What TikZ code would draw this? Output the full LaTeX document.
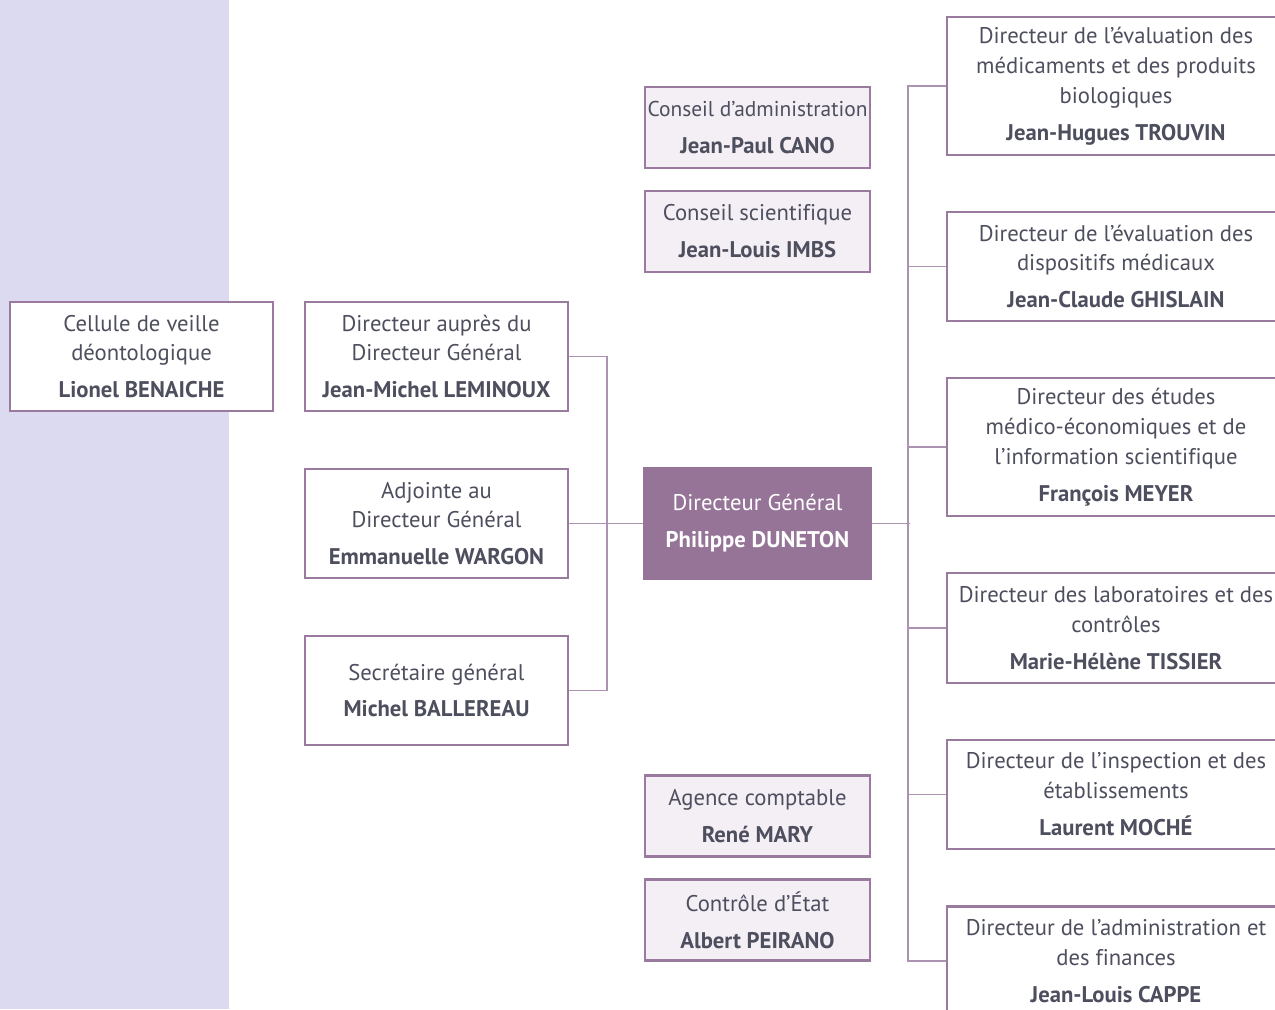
\documentclass[tikz,border=0pt]{standalone}
\usepackage{fontspec}
\setmainfont[Ligatures=NoCommon]{PT Sans}
\usetikzlibrary{positioning}

\definecolor{panel}{HTML}{DCDAF0}
\definecolor{frame}{HTML}{9A7B9F}
\definecolor{linkc}{HTML}{AC93B2}
\definecolor{soft}{HTML}{F4EEF5}
\definecolor{dgfill}{HTML}{957497}
\definecolor{ink}{HTML}{4E4F5E}

\tikzset{
  orgbox/.style={draw=frame, line width=1.6pt, fill=white, text=ink, align=center,
    inner sep=0pt, minimum width=5.26cm, minimum height=2.18cm,
    font=\fontsize{12.9}{17}\selectfont},
  softbox/.style={orgbox, fill=soft, minimum width=4.5cm, minimum height=1.62cm},
  dgbox/.style={orgbox, draw=dgfill, fill=dgfill, text=white, minimum width=4.54cm, minimum height=2.22cm},
  dirbox/.style={orgbox, minimum width=6.76cm},
  link/.style={draw=linkc, line width=1.1pt}
}

\begin{document}
\begin{tikzpicture}[x=0.02cm, y=-0.02cm]
		\useasboundingbox (0,0) rectangle (1275,1009);
		\clip (0,0) rectangle (1275,1009);

		% Left panel
		\fill[panel] (0,0) rectangle (229,1009);
		\node[orgbox] (cellule) at (141.5,356.5) {Cellule de veille\\déontologique\\[4pt]\textbf{Lionel BENAICHE}};

		% Directors next to the Directeur Général
		\node[orgbox] (aupres) at (436.5,356.5) {Directeur auprès du\\Directeur Général\\[4pt]\textbf{Jean-Michel LEMINOUX}};
		\node[orgbox] (adjointe) at (436.5,523.5) {Adjointe au\\Directeur Général\\[4pt]\textbf{Emmanuelle WARGON}};
		\node[orgbox] (secretaire) at (436.5,690.5) {Secrétaire général\\[4pt]\textbf{Michel BALLEREAU}};

		% Middle column
		\node[softbox, font=\fontsize{12.2}{17}\selectfont] (admin) at (757.5,127.5) {Conseil d’administration\\[4pt]\textbf{\fontsize{12.9}{17}\selectfont Jean-Paul CANO}};
		\node[softbox] (scient) at (757.5,231.5) {Conseil scientifique\\[4pt]\textbf{Jean-Louis IMBS}};
		\node[dgbox] (dg) at (757.5,523.5) {Directeur Général\\[4pt]\textbf{Philippe DUNETON}};
		\node[softbox] (agence) at (757.5,816) {Agence comptable\\[4pt]\textbf{René MARY}};
		\node[softbox] (controle) at (757.5,920) {Contrôle d’État\\[4pt]\textbf{Albert PEIRANO}};

		% Right column
		\node[dirbox, minimum height=2.76cm] (dir1) at (1116,86) {Directeur de l’évaluation des\\médicaments et des produits\\biologiques\\[4pt]\textbf{Jean-Hugues TROUVIN}};
		\node[dirbox] (dir2) at (1116,266.5) {Directeur de l’évaluation des\\dispositifs médicaux\\[4pt]\textbf{Jean-Claude GHISLAIN}};
		\node[dirbox, minimum height=2.76cm] (dir3) at (1116,447) {Directeur des études\\médico-économiques et de\\l’information scientifique\\[4pt]\textbf{François MEYER}};
		\node[dirbox, minimum height=2.2cm] (dir4) at (1116,628) {Directeur des laboratoires et des\\contrôles\\[4pt]\textbf{Marie-Hélène TISSIER}};
		\node[dirbox] (dir5) at (1116,794.5) {Directeur de l’inspection et des\\établissements\\[4pt]\textbf{Laurent MOCHÉ}};
		\node[dirbox] (dir6) at (1116,961) {Directeur de l’administration et\\des finances\\[4pt]\textbf{Jean-Louis CAPPE}};

		% Links
		\draw[link] (aupres.east) -- ++(38,0) |- (secretaire.east);
		\draw[link] (adjointe.east) -- (dg.west);
		\draw[link] (dir1.west) -- ++(-38,0) |- (dir6.west);
		\draw[link] (dg.east) -- ++(38,0);
		\foreach \d in {dir2,dir3,dir4,dir5}
			\draw[link] (\d.west) -- ++(-38,0);
	\end{tikzpicture}
\end{document}
